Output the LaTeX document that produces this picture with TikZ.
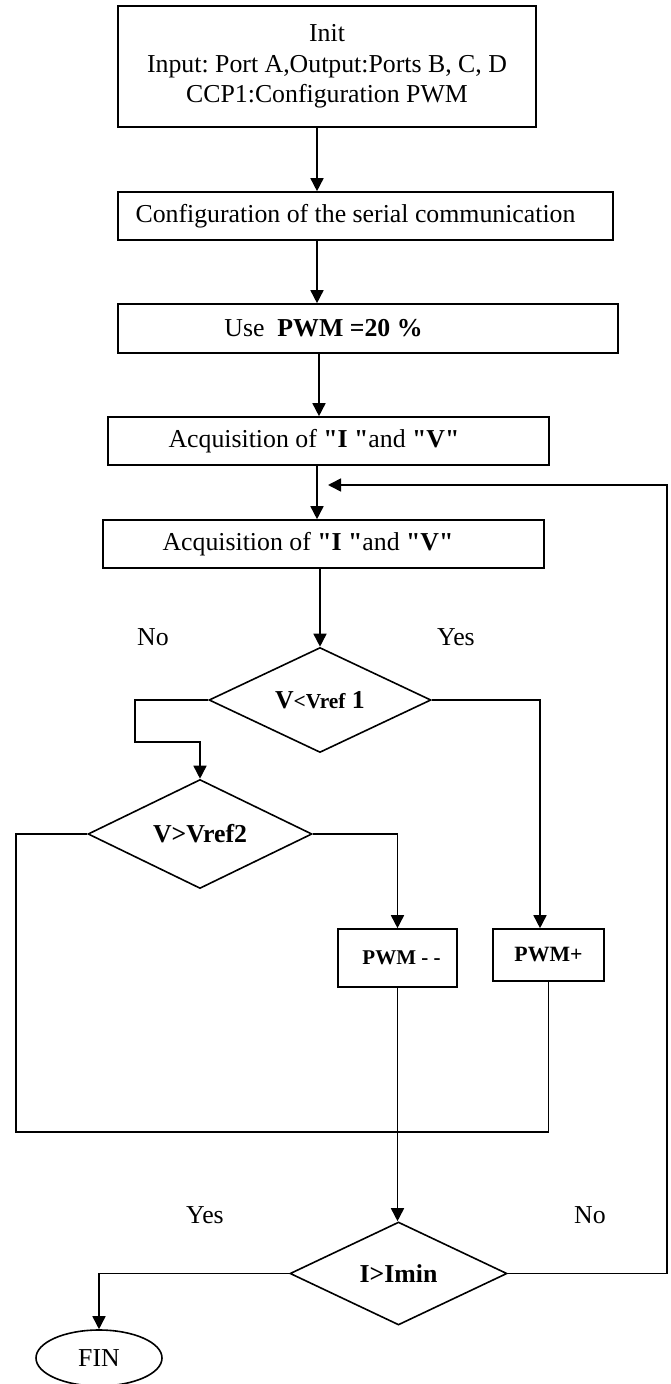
\documentclass[tikz,border=0pt]{standalone}
\usepackage{fontspec}
\setmainfont{Liberation Serif}
\usetikzlibrary{shapes.geometric,arrows.meta}
\frenchspacing
\newcommand{\qt}{\textquotedbl}

\begin{document}
\begin{tikzpicture}[x=0.5pt,y=-0.5pt,line width=0.8pt,>={Triangle[length=6.5pt,width=6.5pt]},
        font=\fontsize{12.9pt}{15.25pt}\selectfont,
        stepbox/.style={shape=rectangle,draw=black,inner sep=0pt},
        testbox/.style={shape=diamond,draw=black,inner sep=0pt,aspect=2.1,font=\fontsize{12.9pt}{15.25pt}\selectfont\bfseries}]
            \useasboundingbox (0,0) rectangle (670,1384);

            \node[stepbox,minimum width=209pt,minimum height=60.5pt,align=center] (init) at (327,66.5) {Init\\Input: Port A,Output:Ports B, C, D\\CCP1:Configuration PWM};
            \node[stepbox,minimum width=247.5pt,minimum height=24pt,label={[xshift=-5pt]center:Configuration of the serial communication}] (cfg) at (365.5,216) {};
            \node[stepbox,minimum width=250pt,minimum height=24.5pt,label={[xshift=-22.25pt]center:Use\ \ \textbf{PWM =20 \%}}] (use) at (368,328.5) {};
            \node[stepbox,minimum width=220.5pt,minimum height=24pt,label={[xshift=-7.25pt]center:Acquisition of \textbf{\qt I \qt}and \textbf{\qt V\qt}}] (acq1) at (328.5,441) {};
            \node[stepbox,minimum width=220.5pt,minimum height=24pt,label={[xshift=-7.75pt]center:Acquisition of \textbf{\qt I \qt}and \textbf{\qt V\qt}}] (acq2) at (323.5,544) {};

            \node[testbox,minimum width=111pt,minimum height=52.5pt] (dia1) at (320,700) {V{\fontsize{10.7pt}{12pt}\selectfont <Vref} 1};
            \node[testbox,minimum width=112pt,minimum height=54.5pt] (dia2) at (200,834) {V>Vref2};
            \node[stepbox,minimum width=59.5pt,minimum height=29pt,font=\fontsize{10.5pt}{12pt}\selectfont\bfseries] (pwmm) at (397.5,958) {\hspace*{4pt}PWM - -};
            \node[stepbox,minimum width=55.5pt,minimum height=26pt,font=\fontsize{10.9pt}{12pt}\selectfont\bfseries] (pwmp) at (548.5,955) {PWM+};
            \node[testbox,minimum width=108.5pt,minimum height=51.5pt] (dia3) at (398.5,1273.5) {I>Imin};
            \node[shape=ellipse,draw=black,inner sep=0pt,minimum width=63pt,minimum height=28pt] (fin) at (99,1358) {FIN};

            \node (no1) at (153,637) {No};
            \node (yes1) at (456,637) {Yes};
            \node (yes2) at (205,1215) {Yes};
            \node (no2) at (590,1215) {No};

            \coordinate (bus) at (16,1132);
            \coordinate (back) at (667,485);
            \coordinate (join) at (328,485);

            \path [->] (init.south -| 317,0) edge (cfg.north -| 317,0);
            \path [->] (cfg.south -| 317,0) edge (use.north -| 317,0);
            \path [->] (use.south -| 319,0) edge (acq1.north -| 319,0);
            \path [->] (acq1.south -| 317,0) edge (acq2.north -| 317,0);
            \path [->] (dia1.north |- acq2.south) edge (dia1.north);
            \draw [->] (dia1.west) -| (135,742) -| (dia2.north);
            \draw [->] (dia1.east) -| ([xshift=-4.25pt]pwmp.north);
            \draw [->] (dia2.east) -| (pwmm.north);
            \draw (dia2.west) -| (bus) -- (pwmp.south |- bus) -- (pwmp.south);
            \draw [->] (pwmm.south) -- (pwmm.south |- dia3.north);
            \draw [->] (dia3.west) -| (fin.north);
            \draw [->] (dia3.east) -| (back) -- (join);
        \end{tikzpicture}
\end{document}
